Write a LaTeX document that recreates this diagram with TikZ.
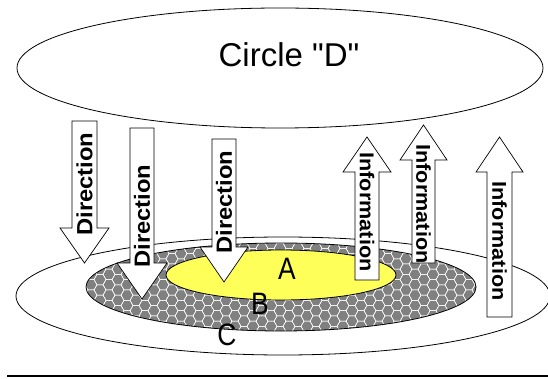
\documentclass[tikz,border=0pt]{standalone}
\usepackage{fontspec}
\setmainfont{Liberation Sans}
\newfontfamily\titlefont{Liberation Sans}
\usepackage{tikz}
\usetikzlibrary{positioning}
\definecolor{cyellow}{RGB}{255,255,90}
\definecolor{cgray}{RGB}{128,128,128}

\begin{document}
\begin{tikzpicture}[x=1pt, y=-1pt,
    blk/.style={draw, fill=white, line width=0.7pt, line join=miter},
    ring/.style={draw, line width=0.8pt},
    dirtext/.style={font=\fontsize{22}{22}\selectfont\bfseries, rotate=90, xscale=1.08, inner sep=0pt},
    inftext/.style={font=\fontsize{20}{20}\selectfont\bfseries, rotate=-90, xscale=1.08, inner sep=0pt},
    lbl/.style={font=\fontsize{31}{31}\selectfont, xscale=0.85, inner sep=0pt},
  ]
    \useasboundingbox (0,0) rectangle (548,379);

    % circle D on top
    \draw[ring, fill=white] (280,68) ellipse [x radius=263pt, y radius=60pt];
    \node[font=\titlefont\fontsize{33}{33}\selectfont, inner sep=0pt] (title) at (289,55) {Circle "D"};

    % rings C, B, A
    \draw[ring, fill=white] (283,296) ellipse [x radius=267pt, y radius=59pt];
    \begin{scope}
      \clip (281,287) ellipse [x radius=195pt, y radius=44pt];
      \fill[cgray] (80,240) rectangle (480,335);
      \foreach \i in {0,...,44} {
        \foreach \j in {0,...,9} {
          \pgfmathsetmacro{\hx}{82+9*\i}
          \pgfmathsetmacro{\hy}{238+10.39*\j+5.2*mod(\i,2)}
          \draw[white, line width=0.5pt] (\hx,\hy) +(0:6) -- +(60:6) -- +(120:6)
            -- +(180:6) -- +(240:6) -- +(300:6) -- cycle;
        }
      }
    \end{scope}
    \draw[ring] (281,287) ellipse [x radius=195pt, y radius=44pt];
    \draw[ring, fill=cyellow] (281,275) ellipse [x radius=115pt, y radius=25pt];

    \node[lbl] (A) at (287,269) {A};
    \node[lbl] (B) at (260,304) {B};
    \node[lbl] (C) at (227,335) {C};

    % direction arrows (down)
    \draw[blk] (72,121) -- (97,121) -- (97,228) -- (109,228) -- (84.5,263)
      -- (60,228) -- (72,228) -- cycle;
    \node[dirtext] (dir1) at (84.5,184) {Direction};
    \draw[blk] (130,128) -- (154,128) -- (154,263) -- (167,263) -- (142,299)
      -- (117,263) -- (130,263) -- cycle;
    \node[dirtext] (dir2) at (142,216) {Direction};
    \draw[blk] (212,139) -- (236,139) -- (236,247) -- (248,247) -- (224,282)
      -- (200,247) -- (212,247) -- cycle;
    \node[dirtext] (dir3) at (224,202) {Direction};

    % information arrows (up)
    \draw[blk] (355,280) -- (379,280) -- (379,172) -- (391,172) -- (367,137)
      -- (343,172) -- (355,172) -- cycle;
    \node[inftext] (inf1) at (367,212) {Information};
    \draw[blk] (412,263) -- (435,263) -- (435,160) -- (447,160) -- (423.5,125)
      -- (400,160) -- (412,160) -- cycle;
    \node[inftext] (inf2) at (423.5,204) {Information};
    \draw[blk] (487,317) -- (512,317) -- (512,172) -- (523,172) -- (499.5,137)
      -- (476,172) -- (487,172) -- cycle;
    \node[inftext] (inf3) at (499.5,241) {Information};

    % bottom rule
    \draw[line width=2.5pt] (7,376) -- (548,376);
  \end{tikzpicture}
\end{document}
